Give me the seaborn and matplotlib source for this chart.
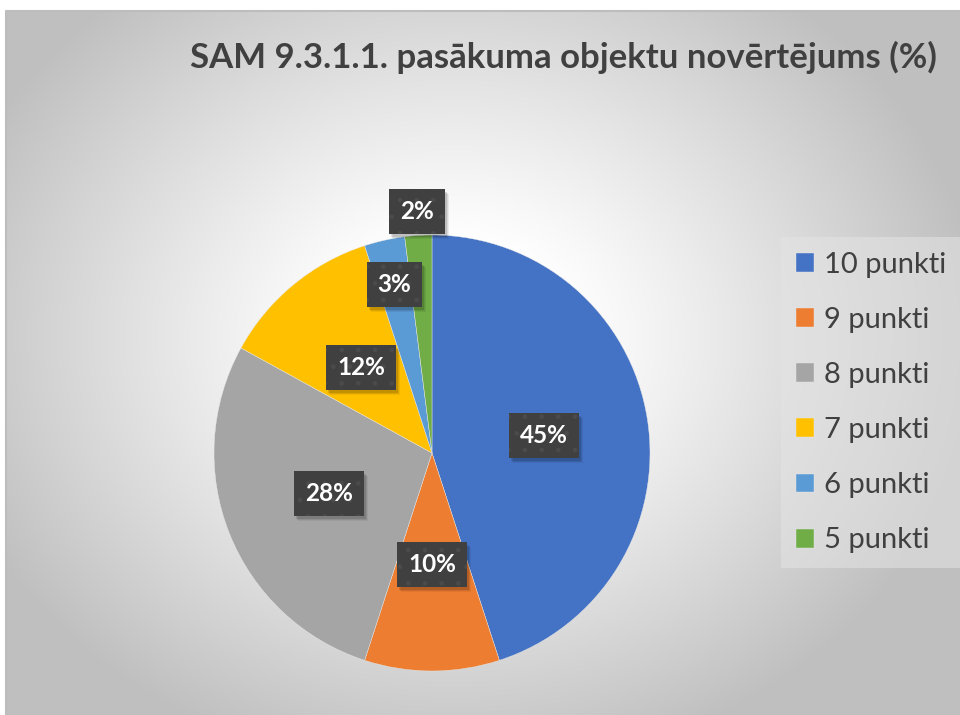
import numpy as np
import matplotlib
matplotlib.use("Agg")
import matplotlib.pyplot as plt
import matplotlib.transforms as mtransforms
from matplotlib.patches import Rectangle
import seaborn as sns

# ==========================================
# DATA
# ==========================================
title = "SAM 9.3.1.1. pasākuma objektu novērtējums (%)"
categories = ["10 punkti", "9 punkti", "8 punkti", "7 punkti", "6 punkti", "5 punkti"]
shares = [45, 10, 28, 12, 3, 2]
colors = ["#4472C4", "#ED7D31", "#A5A5A5", "#FFC000", "#5B9BD5", "#70AD47"]

# label distance from centre (fraction of radius), small slices pushed out
label_r = [0.52, 0.51, 0.51, 0.51, 0.79, 1.11]

sns.set_theme(style="white")
plt.rcParams["font.family"] = ["Lato", "DejaVu Sans"]
plt.rcParams["hatch.linewidth"] = 0.9

W, H = 960, 715
fig = plt.figure(figsize=(W / 100, H / 100), dpi=100)
fig.patch.set_facecolor("white")

# ==========================================
# radial grey background (chart area)
# ==========================================
bg = fig.add_axes([0, 0, 1, 1])
bg.set_xlim(0, W)
bg.set_ylim(H, 0)
bg.axis("off")
yy, xx = np.mgrid[0:H, 0:W]
d = np.sqrt(((xx - 450) / 560) ** 2 + ((yy - 330) / 470) ** 2)
val = 1 - 0.25 * np.clip((d - 0.2) / 0.75, 0, 1) ** 1.1
img = np.dstack([val, val, val])
bg.imshow(img, extent=[6, W, H, 11], interpolation="bilinear", zorder=0)
bg.plot([6, 6, W], [H, 11, 11], color="#bdbdbd", lw=1.5, zorder=1)

# ==========================================
# pie
# ==========================================
cx, cy, R = 432, 453, 218
ax = fig.add_axes([(cx - R) / W, (H - cy - R) / H, 2 * R / W, 2 * R / H])
ax.patch.set_alpha(0)
palette = sns.color_palette(colors)
wedges, _ = ax.pie(shares, colors=palette, startangle=90, counterclock=False,
                   radius=1, wedgeprops=dict(linewidth=0.3, edgecolor="#e8e8e8"))
ax.set_xlim(-1, 1)
ax.set_ylim(-1, 1)
ax.set_aspect("equal")
ax.axis("off")

labels = []
for w, v, r in zip(wedges, shares, label_r):
    ang = np.deg2rad((w.theta1 + w.theta2) / 2)
    t = ax.text(r * np.cos(ang), r * np.sin(ang), f"{v}%", ha="center", va="center",
                fontsize=17.5, fontweight="bold", color="white", clip_on=False, zorder=5,
                bbox=dict(boxstyle="square,pad=0.45", facecolor="#404040",
                          edgecolor="#4b4b4b", linewidth=0, hatch="."))
    labels.append(t)

# ==========================================
# title & legend
# ==========================================
fig.text(937 / W, 1 - 57 / H, title, ha="right", va="center",
         fontsize=25, fontweight="bold", color="#404040")

leg = fig.legend(wedges, categories, loc="upper left",
                 bbox_to_anchor=(781 / W, 1 - 237 / H), frameon=True,
                 fontsize=21, labelcolor="#404040", handlelength=0.62,
                 handleheight=0.62, handletextpad=0.35, labelspacing=1.0,
                 borderpad=0.5, borderaxespad=0, fancybox=False)
leg.get_frame().set_facecolor("#e4e4e4")
leg.get_frame().set_alpha(0.55)
leg.get_frame().set_linewidth(0)

# soft drop shadows behind the label boxes (need the drawn box sizes)
fig.canvas.draw()
renderer = fig.canvas.get_renderer()
for t in labels:
    bb = t.get_bbox_patch().get_window_extent(renderer)
    for k, a in [(5, 0.06), (4, 0.08), (3, 0.12)]:
        ax.add_artist(Rectangle((bb.x0 + k - 1, bb.y0 - k), bb.width, bb.height,
                                transform=mtransforms.IdentityTransform(),
                                facecolor="black", alpha=a, edgecolor="none",
                                zorder=4, clip_on=False))

fig.savefig("out.png", dpi=100)
